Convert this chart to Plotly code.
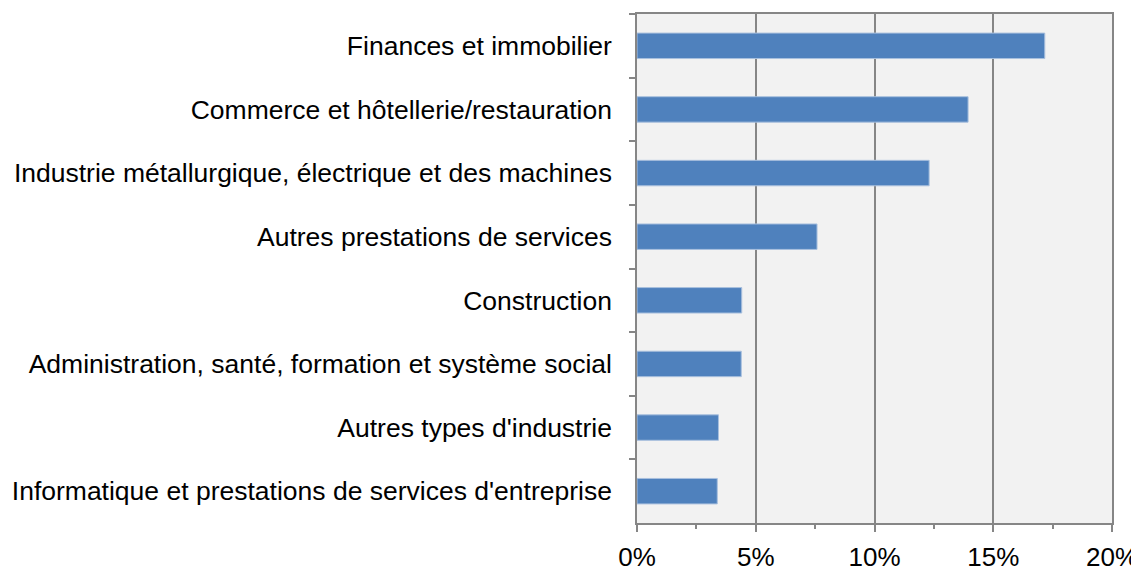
import plotly.graph_objects as go

categories = [
    "Finances et immobilier",
    "Commerce et hôtellerie/restauration",
    "Industrie métallurgique, électrique et des machines",
    "Autres prestations de services",
    "Construction",
    "Administration, santé, formation et système social",
    "Autres types d'industrie",
    "Informatique et prestations de services d'entreprise",
]
values = [0.1717, 0.1394, 0.1230, 0.0758, 0.0441, 0.0439, 0.0343, 0.0338]
x_ticks = [0, 0.05, 0.10, 0.15, 0.20]
x_tick_labels = ["0%", "5%", "10%", "15%", "20%"]

grey = "#868686"
fig = go.Figure(go.Bar(
    x=values, y=categories, orientation="h",
    marker=dict(color="#4F81BD", line=dict(color="#A9C0DE", width=1)),
))
fig.update_layout(
    width=1131, height=568,
    margin=dict(l=629, r=27, t=6, b=53),
    paper_bgcolor="white", plot_bgcolor="#F2F2F2",
    bargap=0.6, showlegend=False,
    font=dict(family="Liberation Sans, Arial, sans-serif", size=26.5, color="black"),
)
fig.update_xaxes(
    range=[0, 0.20], tickvals=x_ticks, ticktext=x_tick_labels,
    showgrid=True, gridcolor=grey, gridwidth=1.5,
    showline=True, linecolor=grey, linewidth=1.5, mirror=True,
    ticks="outside", ticklen=7, tickcolor=grey, tickwidth=1.5,
    minor=dict(dtick=0.025, tick0=0, ticks="outside", ticklen=4, tickcolor=grey, showgrid=False),
    ticklabelstandoff=3, zeroline=False, automargin=False,
    tickfont=dict(size=26),
)
fig.update_yaxes(
    categoryorder="array", categoryarray=categories, autorange="reversed",
    showline=True, linecolor=grey, linewidth=1.5, mirror=True,
    ticks="outside", ticklen=6, tickcolor=grey, tickwidth=1.5,
    tickson="boundaries", showgrid=False,
    ticklabelstandoff=18, automargin=False,
)
fig.write_html("out.html")
